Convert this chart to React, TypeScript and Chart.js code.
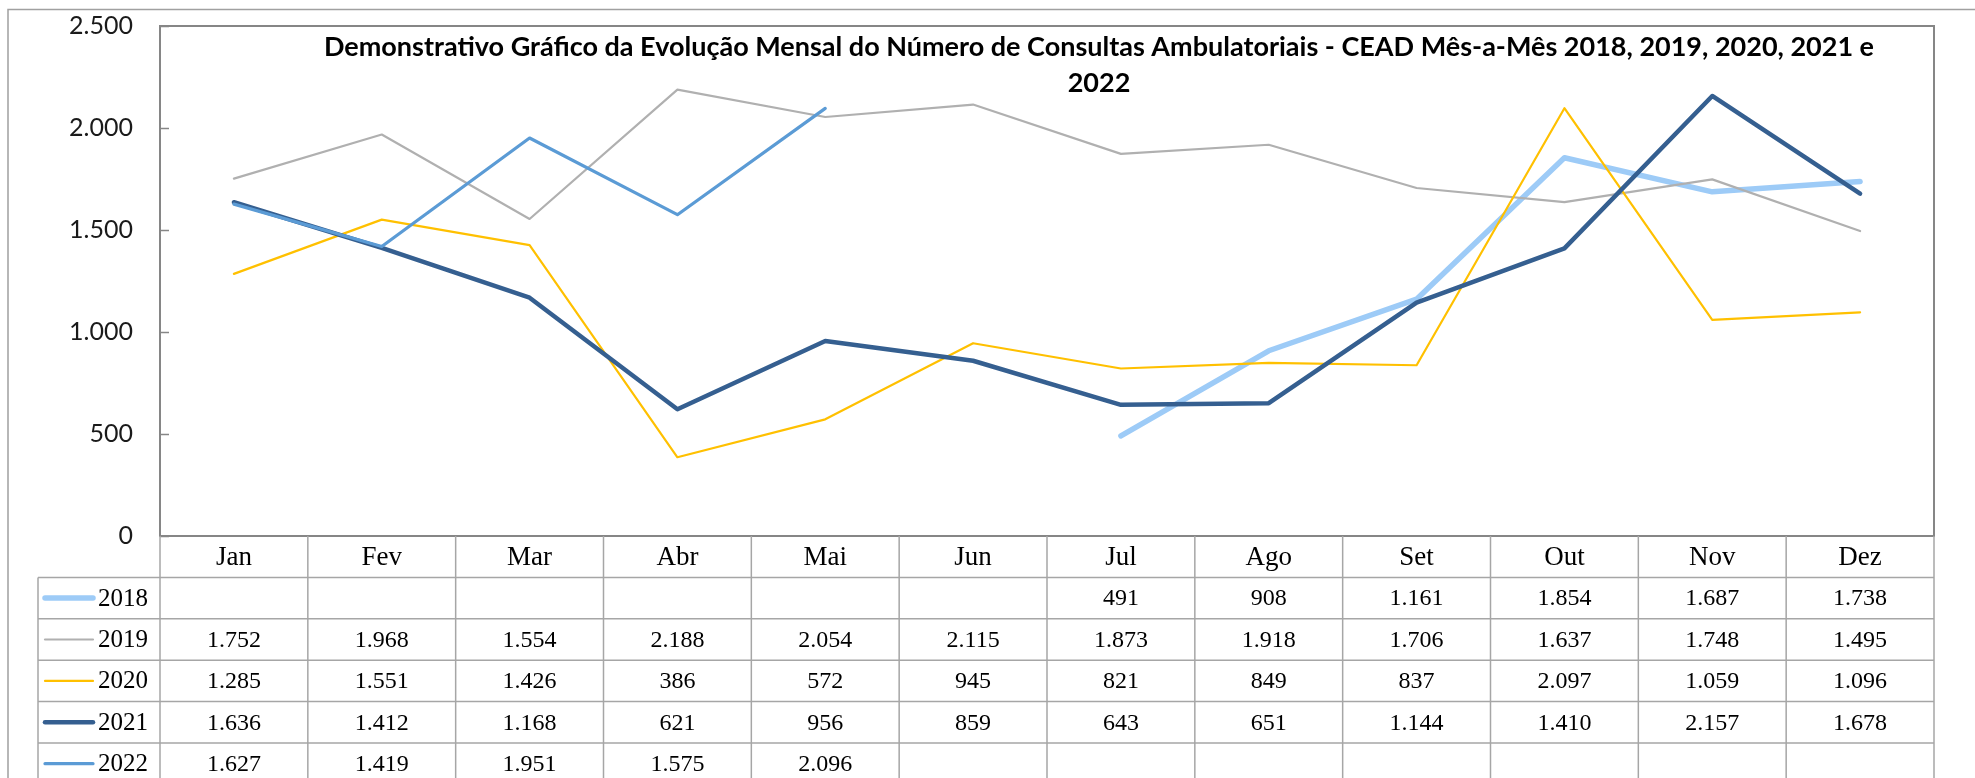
import { useEffect, useRef } from "react";
import { Chart, registerables } from "chart.js";

Chart.register(...registerables);

const months = ["Jan", "Fev", "Mar", "Abr", "Mai", "Jun", "Jul", "Ago", "Set", "Out", "Nov", "Dez"];
const seriesNames = ["2018", "2019", "2020", "2021", "2022"];

const values2018 = [null, null, null, null, null, null, 491, 908, 1161, 1854, 1687, 1738];
const values2019 = [1752, 1968, 1554, 2188, 2054, 2115, 1873, 1918, 1706, 1637, 1748, 1495];
const values2020 = [1285, 1551, 1426, 386, 572, 945, 821, 849, 837, 2097, 1059, 1096];
const values2021 = [1636, 1412, 1168, 621, 956, 859, 643, 651, 1144, 1410, 2157, 1678];
const values2022 = [1627, 1419, 1951, 1575, 2096, null, null, null, null, null, null, null];

const yMin = 0;
const yMax = 2500;
const yStep = 500;

const titleLines = [
  "Demonstrativo Gráfico da Evolução Mensal do Número de Consultas Ambulatoriais - CEAD Mês-a-Mês 2018, 2019, 2020, 2021 e",
  "2022",
];

const seriesValues = [values2018, values2019, values2020, values2021, values2022];
const seriesColors = ["#9dcbf7", "#b0b0b0", "#ffc000", "#355f90", "#5b9bd5"];
const seriesWidths = [5.5, 2.2, 2.2, 4.5, 3.2];

const fmt = (v: number | null) =>
  v == null ? "" : String(v).replace(/\B(?=(\d{3})+(?!\d))/g, ".");

const tablePlugin = {
  id: "tableAndFrame",
  afterDraw(chart: any) {
    const { ctx, chartArea: ca } = chart;
    const x = chart.scales.x;
    const y = chart.scales.y;
    ctx.save();

    // outer frame
    ctx.strokeStyle = "#a0a0a0";
    ctx.lineWidth = 1.5;
    ctx.beginPath();
    ctx.moveTo(8, chart.height);
    ctx.lineTo(8, 9.5);
    ctx.lineTo(chart.width, 9.5);
    ctx.stroke();

    // plot border
    ctx.strokeStyle = "#868686";
    ctx.lineWidth = 2;
    ctx.strokeRect(ca.left, ca.top, ca.right - ca.left, ca.bottom - ca.top);

    // inward y ticks
    ctx.beginPath();
    for (let v = yMin; v <= yMax; v += yStep) {
      const py = Math.round(y.getPixelForValue(v)) + 0.5;
      ctx.moveTo(ca.left, py);
      ctx.lineTo(ca.left + 9, py);
    }
    ctx.lineWidth = 1.5;
    ctx.stroke();

    // title
    ctx.fillStyle = "#000";
    ctx.font = "bold 27px Lato";
    ctx.textAlign = "center";
    ctx.textBaseline = "middle";
    const tcx = 1099;
    titleLines.forEach((t, i) => ctx.fillText(t, tcx, 47 + i * 36));

    // table
    const colW = x.getPixelForValue(1) - x.getPixelForValue(0);
    const rowH = 41.4;
    const headTop = ca.bottom;
    const tableLeft = 38;
    const rowsTop = headTop + rowH;

    ctx.strokeStyle = "#a6a6a6";
    ctx.lineWidth = 1.5;
    ctx.beginPath();
    for (let r = 0; r <= seriesNames.length; r++) {
      const py = rowsTop + r * rowH;
      ctx.moveTo(tableLeft, py);
      ctx.lineTo(ca.right, py);
    }
    ctx.moveTo(tableLeft, rowsTop);
    ctx.lineTo(tableLeft, rowsTop + seriesNames.length * rowH + 10);
    for (let i = 0; i <= months.length; i++) {
      const px = x.getPixelForValue(0) - colW / 2 + i * colW;
      ctx.moveTo(px, headTop);
      ctx.lineTo(px, rowsTop + seriesNames.length * rowH + 10);
    }
    ctx.stroke();

    // month headers
    ctx.fillStyle = "#000";
    ctx.textAlign = "center";
    ctx.textBaseline = "middle";
    ctx.font = "27px 'Liberation Serif'";
    months.forEach((m, i) => {
      ctx.fillText(m, x.getPixelForValue(i), headTop + rowH / 2 + 1);
    });

    // rows
    seriesNames.forEach((name, r) => {
      const cy = rowsTop + r * rowH + rowH / 2;
      ctx.strokeStyle = seriesColors[r];
      ctx.lineWidth = seriesWidths[r];
      ctx.lineCap = "round";
      ctx.beginPath();
      ctx.moveTo(45, cy);
      ctx.lineTo(93, cy);
      ctx.stroke();
      ctx.fillStyle = "#000";
      ctx.textAlign = "left";
      ctx.font = "25px 'Liberation Serif'";
      ctx.fillText(name, 98, cy + 1);
      ctx.textAlign = "center";
      ctx.font = "24px 'Liberation Serif'";
      seriesValues[r].forEach((v, i) => {
        if (v != null) ctx.fillText(fmt(v), x.getPixelForValue(i), cy + 1);
      });
    });

    ctx.restore();
  },
};

export default function App() {
  const ref = useRef<HTMLCanvasElement | null>(null);
  useEffect(() => {
    document.body.style.margin = "0";
    const canvas = ref.current;
    if (!canvas) return;
    const chart = new Chart(canvas, {
      type: "line",
      data: {
        labels: months,
        datasets: seriesNames.map((name, i) => ({
          label: name,
          data: seriesValues[i],
          borderColor: seriesColors[i],
          backgroundColor: seriesColors[i],
          borderWidth: seriesWidths[i],
          pointRadius: 0,
          tension: 0,
          spanGaps: false,
          borderJoinStyle: "round" as const,
          borderCapStyle: "round" as const,
          order: seriesNames.length - i,
        })),
      },
      options: {
        responsive: false,
        animation: false,
        devicePixelRatio: 1,
        layout: { padding: { left: 0, top: 26, right: 41, bottom: 242 } },
        plugins: {
          legend: { display: false },
          title: { display: false },
          tooltip: { enabled: false },
        },
        scales: {
          x: {
            type: "category",
            offset: true,
            display: false,
            grid: { display: false },
          },
          y: {
            min: yMin,
            max: yMax,
            border: { display: false },
            grid: { display: false, drawTicks: false },
            afterFit: (scale: any) => {
              scale.width = 160;
              scale.paddingTop = 0;
              scale.paddingBottom = 0;
            },
            ticks: {
              stepSize: yStep,
              padding: 27,
              color: "#1a1a1a",
              font: { family: "Lato", size: 25 },
              callback: (v: any) => fmt(Number(v)),
            },
          },
        },
      },
      plugins: [tablePlugin],
    });
    return () => chart.destroy();
  }, []);
  return <canvas ref={ref} width={1975} height={778} style={{ display: "block", width: 1975, height: 778 }} />;
}
